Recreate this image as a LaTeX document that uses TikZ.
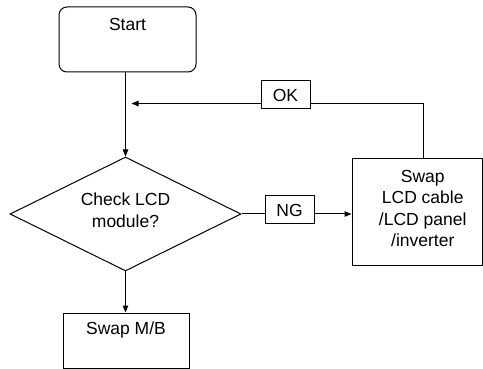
\documentclass[tikz,border=0pt]{standalone}
\usepackage{fontspec}
\setmainfont{Liberation Sans}
\usetikzlibrary{shapes.geometric,arrows.meta}
\begin{document}
\begin{tikzpicture}[x=1pt,y=-1pt,line width=1pt,
  >={Triangle[length=7pt,width=5.5pt]},
  every node/.style={font=\fontsize{17.5}{21.5}\selectfont},
  stepbox/.style={draw,inner sep=0pt},
  tagbox/.style={draw,inner sep=0pt,minimum width=49pt,minimum height=28pt}]
 \useasboundingbox (0,0) rectangle (483,369);
 \node[stepbox,rounded corners=8pt,minimum width=137pt,minimum height=65pt,
   label={[anchor=north,inner sep=0pt,yshift=-11pt]north:Start}] (start) at (127.5,39.5) {};
 \node[draw,diamond,inner sep=0pt,minimum width=231pt,minimum height=114pt,
   label={[align=center,yshift=4pt]center:{Check LCD\\module?}}] (check) at (125.5,214) {};
 \node[stepbox,minimum width=130.5pt,minimum height=107pt,
   label={[anchor=north,inner sep=0pt,yshift=-11pt,xshift=5.5pt,align=center]north:{Swap\\LCD cable\\/LCD panel\\/inverter}}] (swap) at (417.25,212.5) {};
 \node[stepbox,minimum width=126pt,minimum height=55pt,
   label={[anchor=north,inner sep=0pt,yshift=-9pt]north:Swap M/B}] (mb) at (126,340.5) {};
 \node[tagbox] (ok) at (285.5,95) {OK};
 \node[tagbox] (ng) at (289.5,210) {NG};
 \coordinate (back) at (131.5,103.5);
 \draw[->] (start.south -| check.north) -- (check.north);
 \draw ([xshift=6.5pt]swap.north) |- (ok.east |- back);
 \draw[->] (ok.west |- back) -- (back);
 \draw (check.east) -- (ng.west |- check.east);
 \draw[->] (ng.east |- check.east) -- (swap.west |- check.east);
 \draw[->] (check.south) -- (mb.north -| check.south);
\end{tikzpicture}
\end{document}
